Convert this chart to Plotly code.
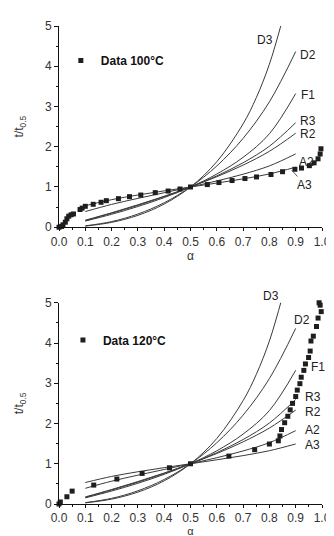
import plotly.graph_objects as go

# ---- model master curves (t/t0.5 vs alpha) ----
alpha_model = [0.1, 0.2, 0.3, 0.4, 0.5, 0.6, 0.7, 0.8, 0.9]
A2 = [0.39, 0.567, 0.717, 0.858, 1.0, 1.15, 1.318, 1.524, 1.823]
A3 = [0.534, 0.685, 0.801, 0.903, 1.0, 1.098, 1.202, 1.324, 1.492]
R2 = [0.175, 0.36, 0.558, 0.77, 1.0, 1.255, 1.544, 1.887, 2.335]
R3 = [0.167, 0.347, 0.543, 0.759, 1.0, 1.276, 1.602, 2.013, 2.597]
F1 = [0.152, 0.322, 0.515, 0.737, 1.0, 1.322, 1.737, 2.322, 3.322]
D2 = [0.034, 0.14, 0.328, 0.609, 1.0, 1.522, 2.208, 3.116, 4.365]
alpha_D3 = [0.1, 0.2, 0.3, 0.4, 0.5, 0.6, 0.7, 0.75, 0.8, 0.85]
D3 = [0.028, 0.121, 0.295, 0.576, 1.0, 1.628, 2.568, 3.217, 4.051, 5.161]

# ---- experimental data ----
alpha_100 = [0.0, 0.01, 0.015, 0.024, 0.03, 0.037, 0.046, 0.055, 0.08, 0.088, 0.1,
             0.13, 0.16, 0.18, 0.226, 0.268, 0.311, 0.366, 0.415, 0.46, 0.5,
             0.564, 0.608, 0.658, 0.707, 0.751, 0.806, 0.85, 0.897, 0.922,
             0.952, 0.97, 0.985, 0.993, 0.996]
t_100 = [0.0, 0.02, 0.06, 0.125, 0.21, 0.275, 0.31, 0.33, 0.44, 0.475, 0.52,
         0.57, 0.62, 0.66, 0.71, 0.76, 0.8, 0.86, 0.9, 0.95, 1.0,
         1.06, 1.11, 1.16, 1.21, 1.25, 1.31, 1.38, 1.44, 1.47,
         1.53, 1.6, 1.7, 1.82, 1.95]

alpha_120 = [0.0, 0.005, 0.03, 0.05, 0.132, 0.22, 0.316, 0.42, 0.5, 0.646, 0.744,
             0.8, 0.834, 0.84, 0.846, 0.858, 0.87, 0.879, 0.888, 0.9, 0.906,
             0.916, 0.921, 0.931, 0.937, 0.949, 0.955, 0.958, 0.967, 0.979,
             0.985, 0.997, 0.993, 0.989]
t_120 = [0.0, 0.05, 0.18, 0.32, 0.47, 0.62, 0.76, 0.9, 1.0, 1.19, 1.35,
         1.49, 1.57, 1.69, 1.85, 2.02, 2.18, 2.34, 2.5, 2.67, 2.83,
         2.99, 3.15, 3.32, 3.48, 3.64, 3.8, 4.05, 4.17, 4.41,
         4.62, 4.78, 4.94, 5.0]

x_ticks = [0.0, 0.1, 0.2, 0.3, 0.4, 0.5, 0.6, 0.7, 0.8, 0.9, 1.0]
x_ticklabels = ["0.0", "0.1", "0.2", "0.3", "0.4", "0.5", "0.6", "0.7", "0.8", "0.9", "1.0"]
y_ticks = [0, 1, 2, 3, 4, 5]

FONT = "Liberation Sans, Arial, sans-serif"
LINE_C = "#3a3a3a"
MARK_C = "#1e1e1e"

fig = go.Figure()

models = [("A2", alpha_model, A2), ("A3", alpha_model, A3),
          ("R2", alpha_model, R2), ("R3", alpha_model, R3),
          ("F1", alpha_model, F1), ("D2", alpha_model, D2),
          ("D3", alpha_D3, D3)]

for xa, ya in (("x", "y"), ("x2", "y2")):
    for name, ax_, ay_ in models:
        fig.add_trace(go.Scatter(x=ax_, y=ay_, mode="lines", xaxis=xa, yaxis=ya,
                                 line=dict(color=LINE_C, width=1, shape="spline"),
                                 showlegend=False, hoverinfo="skip"))

fig.add_trace(go.Scatter(x=alpha_100, y=t_100, mode="markers", xaxis="x", yaxis="y",
                         name="<b>Data 100°C</b>", legend="legend",
                         marker=dict(symbol="square", size=5, color=MARK_C),
                         cliponaxis=False))
fig.add_trace(go.Scatter(x=alpha_120, y=t_120, mode="markers", xaxis="x2", yaxis="y2",
                         name="<b>Data 120°C</b>", legend="legend2",
                         marker=dict(symbol="square", size=5, color=MARK_C),
                         cliponaxis=False))

# label positions (alpha, t/t0.5); placed via domain fractions so they may sit outside ranges
labels_top = [("D3", 0.785, 4.66), ("D2", 0.945, 4.27), ("F1", 0.945, 3.29),
              ("R3", 0.945, 2.63), ("R2", 0.945, 2.32), ("A2", 0.94, 1.62)]
labels_bot = [("D3", 0.805, 5.17), ("D2", 0.925, 4.56), ("F1", 0.985, 3.41),
              ("R3", 0.965, 2.66), ("R2", 0.965, 2.29), ("A2", 0.965, 1.83),
              ("A3", 0.965, 1.46)]

ann = []
for t, x, y in labels_top:
    ann.append(dict(text=t, x=x, y=y / 5.0, xref="x domain", yref="y domain", showarrow=False,
                    xanchor="center", yanchor="middle",
                    font=dict(family=FONT, size=12, color="#222")))
ann.append(dict(text="A3", x=0.885, y=1.42, xref="x", yref="y", showarrow=True,
                ax=0.935, ay=1.05, axref="x", ayref="y", arrowhead=0, arrowwidth=0.8,
                arrowcolor="#333", standoff=0,
                font=dict(family=FONT, size=12, color="#222")))
for t, x, y in labels_bot:
    ann.append(dict(text=t, x=x, y=y / 5.0, xref="x2 domain", yref="y2 domain", showarrow=False,
                    xanchor="center", yanchor="middle",
                    font=dict(family=FONT, size=12, color="#222")))

axis_common = dict(showline=True, linecolor="#111", linewidth=1, showgrid=False,
                   zeroline=False, mirror=False,
                   tickfont=dict(family=FONT, size=12, color="#333"),
                   tickcolor="#111", tickwidth=1)

xax = dict(axis_common, range=[0, 1.0], tickvals=x_ticks, ticktext=x_ticklabels,
           ticks="outside", ticklen=3,
           minor=dict(ticks="outside", ticklen=2, tickcolor="#111", dtick=0.05, tick0=0),
           title=dict(text="α", font=dict(family=FONT, size=12, color="#333"), standoff=0))
yax = dict(axis_common, range=[0, 5], tickvals=y_ticks, ticks="outside", ticklen=4,
           minor=dict(ticks="outside", ticklen=2, tickcolor="#111", dtick=0.5, tick0=0),
           title=dict(text="t/t<sub>0.5</sub>", font=dict(family=FONT, size=12, color="#333"),
                      standoff=18))

fig.update_layout(
    width=334, height=536,
    margin=dict(l=50, r=11, t=18, b=31),
    paper_bgcolor="white", plot_bgcolor="white",
    xaxis=dict(xax, domain=[0, 1], anchor="y"),
    yaxis=dict(yax, domain=[0.579, 1.0], anchor="x"),
    xaxis2=dict(xax, domain=[0, 1], anchor="y2",
                title=dict(text="α", font=dict(family=FONT, size=11, color="#333"), standoff=0)),
    yaxis2=dict(yax, domain=[0.0, 0.421], anchor="x2"),
    annotations=ann,
    legend=dict(x=0.007, y=0.928, xanchor="left", yanchor="middle",
                bgcolor="rgba(0,0,0,0)", font=dict(family=FONT, size=12, color="#111"),
                itemwidth=30),
    legend2=dict(x=0.015, y=0.343, xanchor="left", yanchor="middle",
                 bgcolor="rgba(0,0,0,0)", font=dict(family=FONT, size=12, color="#111"),
                 itemwidth=30),
    showlegend=True,
)

fig.write_html("out.html")
